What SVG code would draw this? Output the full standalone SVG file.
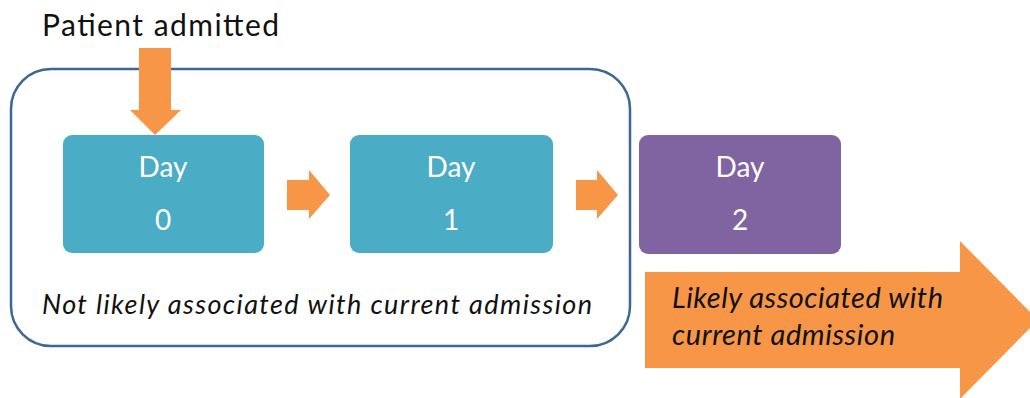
<svg xmlns="http://www.w3.org/2000/svg" width="1030" height="398" viewBox="0 0 1030 398">
  <style>
    .label { font-family: Lato, "Open Sans", "Liberation Sans", sans-serif; }
    .day { fill: #ffffff; font-size: 28px; text-anchor: middle; }
    .note { fill: #111111; font-style: italic; }
    .flow { fill: #f79646; }
  </style>
  <rect width="1030" height="398" fill="#ffffff"/>

  <!-- hospital stay frame -->
  <g id="admission-window">
    <rect x="11" y="69" width="619" height="277" rx="40" ry="40" fill="none" stroke="#3e6797" stroke-width="2.5"/>
    <text class="label note" x="42" y="314" font-size="27" textLength="550" lengthAdjust="spacing">Not likely associated with current admission</text>
  </g>

  <g id="admitted-label">
    <text class="label" x="42" y="36" font-size="30" fill="#111111" textLength="237" lengthAdjust="spacing">Patient admitted</text>
  </g>

  <g id="day0">
    <rect x="63" y="135" width="201" height="118" rx="9" fill="#4bacc6"/>
    <text class="label day" x="163" y="177">Day</text>
    <text class="label day" x="163" y="230">0</text>
  </g>

  <g id="day1">
    <rect x="350" y="135" width="203" height="118" rx="9" fill="#4bacc6"/>
    <text class="label day" x="451" y="177">Day</text>
    <text class="label day" x="451" y="230">1</text>
  </g>

  <g id="day2">
    <rect x="639" y="135" width="202" height="119" rx="9" fill="#8064a2"/>
    <text class="label day" x="740" y="177">Day</text>
    <text class="label day" x="740" y="230">2</text>
  </g>

  <g id="connectors">
    <!-- admission arrow into day 0 -->
    <polygon class="flow" points="139,48 171,48 171,110 181,110 155,135 130,110 139,110"/>
    <!-- day 0 to day 1 -->
    <polygon class="flow" points="287,180 309,180 309,170 330,195 309,219 309,210 287,210"/>
    <!-- day 1 to day 2 -->
    <polygon class="flow" points="576,180 597,180 597,170 618,195 597,219 597,210 576,210"/>
  </g>

  <g id="later-days">
    <polygon class="flow" points="645,272 960,272 960,241 1038,320 960,399 960,368 645,368"/>
    <text class="label note" x="672" y="308" font-size="29" textLength="271" lengthAdjust="spacing">Likely associated with</text>
    <text class="label note" x="672" y="345" font-size="29" textLength="223" lengthAdjust="spacing">current admission</text>
  </g>
</svg>
